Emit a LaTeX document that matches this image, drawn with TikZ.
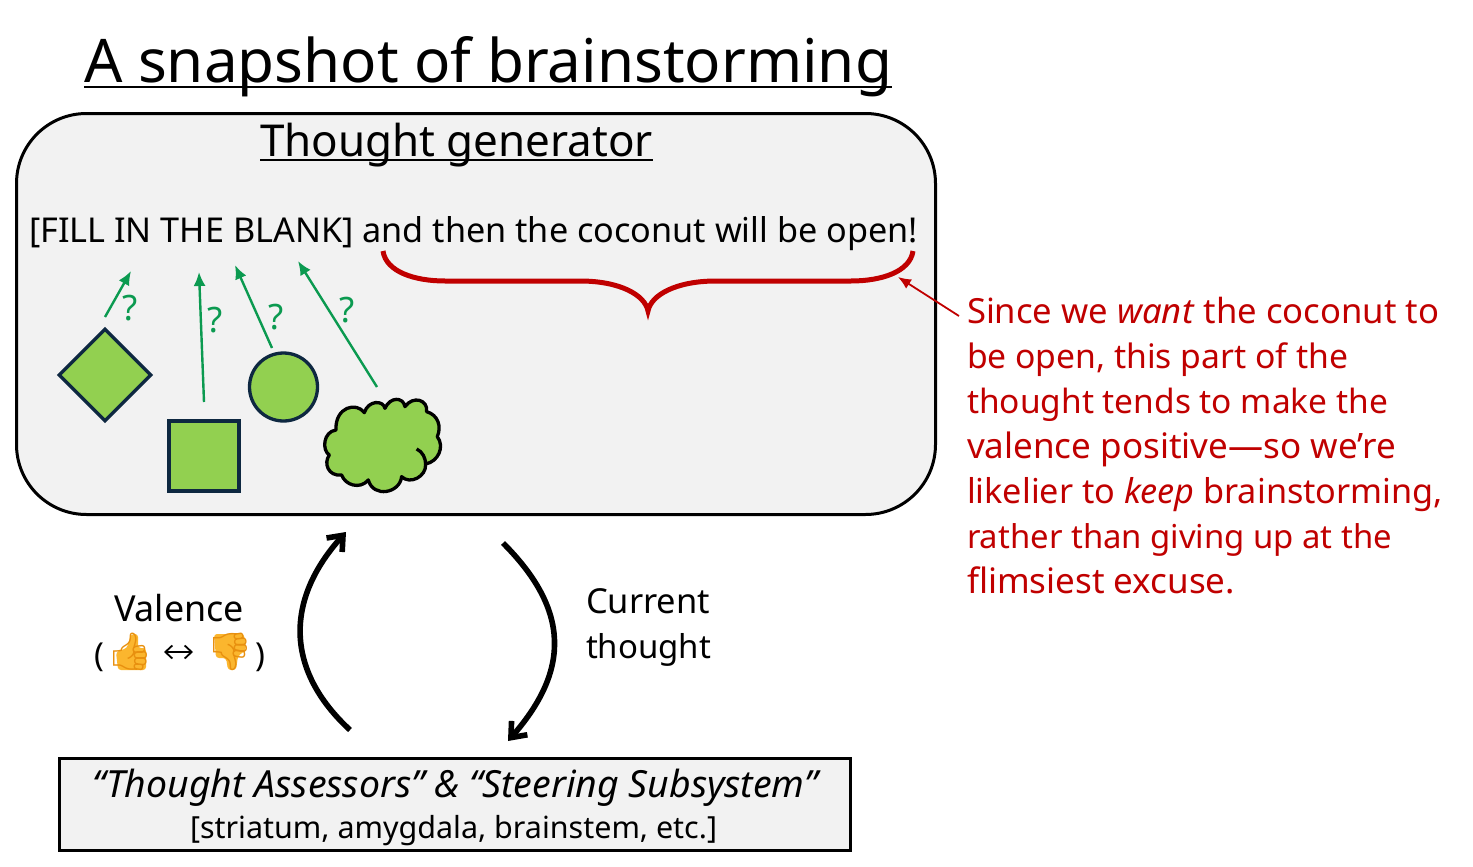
\documentclass[tikz,border=0pt]{standalone}
\usepackage{fontspec}
\usepackage{graphicx}
\setmainfont{Noto Sans}
\newfontfamily\emojifont{Noto Emoji}
\usetikzlibrary{shapes.geometric,arrows.meta}
\definecolor{boxgray}{HTML}{F2F2F2}
\definecolor{leaf}{HTML}{92D050}
\definecolor{navyline}{HTML}{0E2841}
\definecolor{qgreen}{HTML}{0B9A50}
\definecolor{redtxt}{HTML}{C00000}
\definecolor{thumb}{HTML}{FBB62E}
\definecolor{thumbline}{HTML}{E8900F}
\newcommand{\fs}[1]{\fontsize{#1pt}{#1pt}\selectfont}
\newcommand{\fitw}[2]{\resizebox{#1pt}{!}{#2}}
\tikzset{
  txt/.style={anchor=base west,inner sep=0pt,outer sep=0pt},
  redline/.style={txt,text=redtxt,font=\fs{33}},
  shapeform/.style={draw=navyline,fill=leaf,line width=3.3pt,inner sep=0pt},
  guess/.style={-{Latex[length=14pt,width=12pt]},qgreen,line width=2.4pt},
  qmark/.style={inner sep=0pt,text=qgreen,font=\fs{35}},
  loop/.style={-{Straight Barb[length=13pt,width=21pt,line width=5.6pt]},line width=5.6pt,black},
  ruleline/.style={black,line width=2pt},
  emoji/.style={inner sep=0pt,font=\fs{37}\emojifont,text=thumbline},
}
\begin{document}
\begin{tikzpicture}[x=1pt,y=-1pt]
\useasboundingbox (0,0) rectangle (1473,867);
\node[txt,font=\fs{59}] (title) at (84,82) {\fitw{808}{A snapshot of brainstorming}};
\draw[ruleline] ([yshift=-5pt]title.base west) -- ([yshift=-5pt]title.base east);
\node[draw=black,fill=boxgray,line width=3pt,rounded corners=70pt,minimum width=919pt,minimum height=401pt,anchor=north west,inner sep=0pt] (gen) at (15,112) {};
\node[txt,font=\fs{44}] (gentitle) at (260,156) {\fitw{393}{Thought generator}};
\draw[ruleline] ([yshift=-4pt]gentitle.base west) -- ([yshift=-4pt]gentitle.base east);
\node[txt,font=\fs{33}] (blank) at (29,242) {\fitw{889}{[FILL IN THE BLANK] and then the coconut will be open!}};
% shapes
\node[shapeform,diamond,minimum width=93pt,minimum height=93pt] (dia) at (105,375) {};
\node[shapeform,rectangle,minimum width=70pt,minimum height=70pt] (sq) at (204,456) {};
\node[shapeform,circle,minimum size=68pt] (circ) at (283.5,387) {};
\begin{scope}[shift={(30,250)},x=0.3333pt,y=-0.3333pt]
\draw[draw=black,fill=leaf,line width=3.3pt,line join=round] (918,540)
 .. controls (915,470) and (980,455) .. (1003,488)
 .. controls (1015,450) and (1060,450) .. (1065,475)
 .. controls (1080,440) and (1120,440) .. (1125,470)
 .. controls (1150,435) and (1195,450) .. (1190,485)
 .. controls (1225,495) and (1235,530) .. (1222,560)
 .. controls (1245,590) and (1225,635) .. (1187,642)
 .. controls (1190,680) and (1140,705) .. (1115,680)
 .. controls (1110,730) and (1030,745) .. (1015,690)
 .. controls (990,720) and (945,705) .. (935,675)
 .. controls (895,680) and (880,640) .. (898,615)
 .. controls (875,600) and (880,545) .. (918,540) -- cycle;
\draw[draw=black,line width=3.3pt] (1160,597) .. controls (1178,605) and (1187,625) .. (1187,642);
\end{scope}
% green guesses
\coordinate (g1a) at (105,317); \coordinate (g1b) at (131,271);
\coordinate (g2a) at (204,402); \coordinate (g2b) at (199,272);
\coordinate (g3a) at (272,348); \coordinate (g3b) at (235,265);
\coordinate (g4a) at (377,387); \coordinate (g4b) at (298,261);
\draw[guess] (g1a) -- (g1b);
\draw[guess] (g2a) -- (g2b);
\draw[guess] (g3a) -- (g3b);
\draw[guess] (g4a) -- (g4b);
\node[qmark] (q1) at (130,308) {?};
\node[qmark] (q2) at (215,320) {?};
\node[qmark] (q3) at (276,317) {?};
\node[qmark] (q4) at (347,310) {?};
% brace
\draw[redtxt,line width=5pt] (383,251) .. controls (386,272) and (415,281) .. (445,281) -- (580,281) .. controls (620,281) and (645,295) .. (648,311) .. controls (651,295) and (676,281) .. (716,281) -- (851,281) .. controls (881,281) and (910,272) .. (913,251);
\coordinate (bracept) at (898,277);
\coordinate (notept) at (959,316);
\draw[-{Latex[length=13pt,width=11pt]},redtxt,line width=1.8pt] (notept) -- (bracept);
% note
\node[redline] (n1) at (967,323) {\fitw{472}{Since we \textit{want} the coconut to}};
\node[redline] (n2) at (967,368) {\fitw{381}{be open, this part of the}};
\node[redline] (n3) at (967,413) {\fitw{421}{thought tends to make the}};
\node[redline] (n4) at (967,458) {\fitw{429}{valence positive—so we’re}};
\node[redline] (n5) at (967,503) {\fitw{476}{likelier to \textit{keep} brainstorming,}};
\node[redline] (n6) at (967,548) {\fitw{425}{rather than giving up at the}};
\node[redline] (n7) at (967,593) {\fitw{268}{flimsiest excuse.}};
% lower box
\node[draw=black,fill=boxgray,line width=3.6pt,minimum width=791pt,minimum height=92pt,anchor=north west,inner sep=0pt] (assess) at (57.5,756.5) {};
\node[txt,font=\fs{33}\itshape] (a1) at (92,797) {\fitw{726}{“Thought Assessors” \& “Steering Subsystem”}};
\node[txt,font=\fs{30}] (a2) at (190,838) {\fitw{527}{[striatum, amygdala, brainstem, etc.]}};
% loop
\coordinate (la) at (350,730); \coordinate (lb) at (346,532);
\coordinate (ra) at (503,543); \coordinate (rb) at (508,741);
\draw[loop] (la) .. controls (285,670) and (285,600) .. (lb);
\draw[loop] (ra) .. controls (570,610) and (570,670) .. (rb);
% labels
\node[txt,font=\fs{33}] (val) at (114,621) {\fitw{130}{Valence}};
\node[txt,font=\fs{33}] (lp) at (94,666) {(};
\node[txt,font=\fs{33}] (rp) at (255,666) {)};
\fill[thumb,rounded corners=3pt] (116,652) -- (127,648) -- (131,634) -- (138,634) -- (138,648) -- (146,648) -- (146,670) -- (118,670) -- cycle;
\fill[thumb,rounded corners=3pt] (214,634) -- (244,634) -- (246,650) -- (238,656) -- (236,670) -- (228,670) -- (226,658) -- (216,658) -- cycle;
\node[emoji] (up) at (130,652) {👍};
\node[emoji] (down) at (230,652) {👎};
\coordinate (arrl) at (164,652); \coordinate (arrr) at (193,652);
\draw[{Straight Barb[length=7pt,width=13pt]}-{Straight Barb[length=7pt,width=13pt]},line width=1.8pt] (arrl) -- (arrr);
\node[txt,font=\fs{33}] (c1) at (586,613) {\fitw{124}{Current}};
\node[txt,font=\fs{33}] (c2) at (586,658) {\fitw{125}{thought}};
\end{tikzpicture}
\end{document}
